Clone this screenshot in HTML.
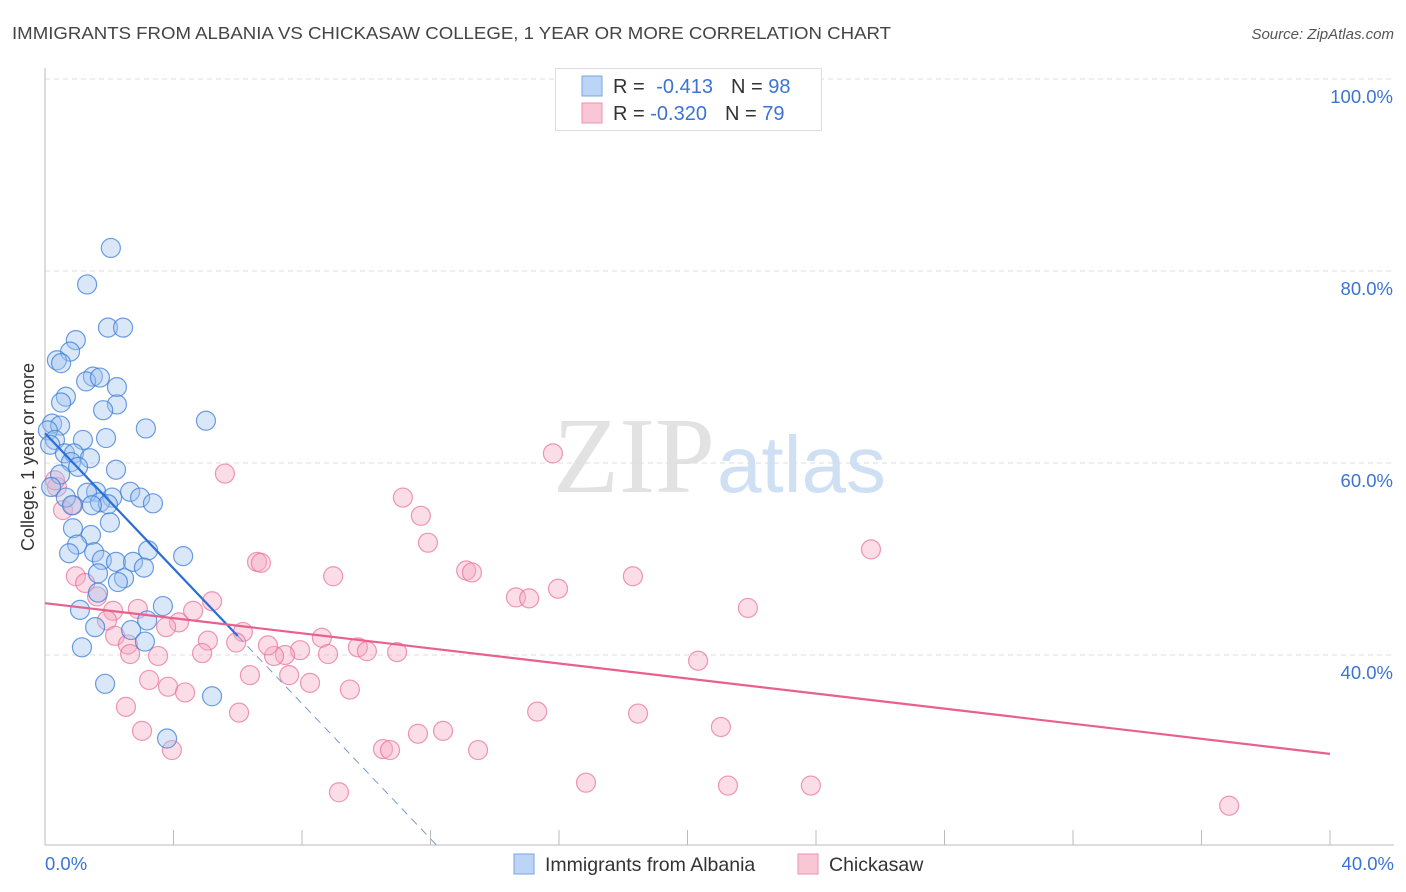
<!DOCTYPE html>
<html><head><meta charset="utf-8"><style>
body{margin:0;background:#fff;font-family:"Liberation Sans",sans-serif}
#wrap{position:relative;width:1406px;height:892px;overflow:hidden}
</style></head><body>
<div id="wrap">
<svg id="chart" width="1406" height="892" xmlns="http://www.w3.org/2000/svg">
<text x="12" y="39" font-size="17.5" fill="#444" textLength="879" lengthAdjust="spacingAndGlyphs">IMMIGRANTS FROM ALBANIA VS CHICKASAW COLLEGE, 1 YEAR OR MORE CORRELATION CHART</text>
<text x="1394" y="39" font-size="15" fill="#555" font-style="italic" text-anchor="end">Source: ZipAtlas.com</text>
<text x="715" y="492" font-size="108" fill="#e2e2e2" text-anchor="end" font-family="Liberation Serif,serif">ZIP</text>
<text x="717" y="492" font-size="80" fill="#cfe0f4">atlas</text>
<g id="grid"></g><g id="axes"></g><g id="pts"></g><g id="lines"></g>
<text transform="translate(34,457) rotate(-90)" font-size="18" fill="#333" text-anchor="middle">College, 1 year or more</text>
<g>
<rect x="555.5" y="68.5" width="266" height="62" fill="#fff" stroke="#ddd"/>
<rect x="582" y="76" width="20" height="20" fill="#bcd4f5" stroke="#7aa6e6"/>
<rect x="582" y="103" width="20" height="20" fill="#f9c6d6" stroke="#ee93b0"/>
<text x="613" y="93" font-size="20" fill="#333">R = <tspan fill="#3b74d4" dx="6">-0.413</tspan><tspan dx="18" fill="#333">N = </tspan><tspan fill="#3b74d4">98</tspan></text>
<text x="613" y="120" font-size="20" fill="#333">R = <tspan fill="#3b74d4">-0.320</tspan><tspan dx="18" fill="#333">N = </tspan><tspan fill="#3b74d4">79</tspan></text>
</g>
<g>
<rect x="514" y="854" width="20" height="20" fill="#bcd4f5" stroke="#7aa6e6"/>
<text x="545" y="871" font-size="19.5" fill="#333">Immigrants from Albania</text>
<rect x="798" y="854" width="20" height="20" fill="#f9c6d6" stroke="#ee93b0"/>
<text x="829" y="871" font-size="19.5" fill="#333">Chickasaw</text>
</g>
</svg></div>
<script>
const yTicks=[40,60,80,100];
const yTickLabels=["40.0%","60.0%","80.0%","100.0%"];
const xTickLabels=["0.0%","40.0%"];
const blueX=[2.05,1.31,1.96,2.43,0.96,0.78,0.37,0.50,1.49,1.28,1.71,2.24,0.65,0.50,2.24,1.81,5.01,3.14,0.22,0.47,0.09,1.90,0.31,1.18,0.16,0.62,0.90,1.40,0.81,1.03,2.21,0.47,0.19,1.59,2.65,0.65,2.96,1.31,2.09,1.71,3.36,1.96,0.84,1.46,2.02,0.87,1.43,1.00,3.21,0.75,1.53,4.30,1.77,2.21,2.74,3.08,1.65,2.46,2.27,1.65,3.67,1.09,3.18,1.56,2.68,3.11,1.15,1.87,5.20,3.80];
const blueY=[82.4,78.6,74.1,74.1,72.8,71.6,70.7,70.4,69.0,68.5,68.9,67.9,66.9,66.3,66.1,65.5,64.4,63.6,64.1,63.9,63.4,62.6,62.4,62.4,61.9,61.0,61.0,60.5,60.1,59.6,59.3,58.8,57.5,57.0,57.0,56.4,56.4,56.9,56.4,55.9,55.8,55.7,55.6,55.6,53.8,53.2,52.5,51.5,50.9,50.6,50.7,50.3,49.9,49.7,49.7,49.1,48.5,48.0,47.6,46.5,45.1,44.7,43.6,42.9,42.6,41.4,40.8,37.0,35.7,31.3];
const pinkX=[5.60,15.81,11.14,11.70,11.92,0.37,0.56,0.87,25.71,6.60,6.72,8.97,13.11,13.29,18.30,14.66,15.07,15.97,0.96,1.25,1.62,2.12,5.20,21.88,4.61,2.89,4.17,1.93,2.18,2.58,3.77,5.07,6.16,8.62,9.74,10.02,7.94,7.47,7.13,5.95,6.94,10.96,4.89,3.52,2.65,8.81,6.38,7.60,3.24,3.83,4.36,8.25,9.49,20.33,2.52,6.04,15.32,18.46,3.02,3.95,10.52,10.74,11.61,12.39,13.48,21.04,16.84,21.26,23.84,9.15,36.86,0.31];
const pinkY=[58.9,61.0,56.4,54.5,51.7,57.5,55.1,55.6,51.0,49.7,49.6,48.2,48.8,48.6,48.2,46.0,45.9,46.9,48.2,47.5,46.1,44.6,45.6,44.9,44.6,44.8,43.4,43.6,42.0,41.1,42.9,41.5,42.4,41.8,40.8,40.4,40.5,40.0,39.9,41.3,41.0,40.3,40.2,39.9,40.1,40.1,37.9,37.9,37.4,36.7,36.1,37.1,36.4,39.4,34.6,34.0,34.1,33.9,32.1,30.1,30.2,30.1,31.8,32.1,30.1,32.5,26.7,26.4,26.4,25.7,24.3,58.2];
const blueTrend=[63.1,-3.52];
const pinkTrend=[45.4,-0.3925];
const NS="http://www.w3.org/2000/svg";
const sx=v=>45+v*32.125, sy=v=>1039-v*9.6;
function mk(tag,attrs,parent){const e=document.createElementNS(NS,tag);for(const k in attrs)e.setAttribute(k,attrs[k]);document.getElementById(parent).appendChild(e);return e;}
yTicks.forEach((t,i)=>{
 const g=mk('line',{x1:45,x2:1394,y1:sy(t),y2:sy(t),stroke:'#ddd','stroke-dasharray':'5,4'},'grid');
 
 
 const l=mk('text',{x:1393,y:sy(t)+24,'font-size':18.5,fill:'#3b74d4','text-anchor':'end'},'axes');
 l.textContent=yTickLabels[i];
 
 
});
const ax=mk('line',{x1:45,x2:45,y1:68,y2:845,stroke:'#bbb'},'axes');


const bx=mk('line',{x1:45,x2:1394,y1:845,y2:845,stroke:'#bbb'},'axes');


for(let i=0;i<=10;i++){const t=mk('line',{x1:sx(i*4),x2:sx(i*4),y1:830,y2:845,stroke:'#bbb'},'axes');
 
 }
const xl0=mk('text',{x:45,y:870,'font-size':18.5,fill:'#3b74d4'},'axes');xl0.textContent=xTickLabels[0];


const xl1=mk('text',{x:1394,y:870,'font-size':18.5,fill:'#3b74d4','text-anchor':'end'},'axes');xl1.textContent=xTickLabels[1];


pinkX.forEach((x,i)=>{const c=mk('circle',{cx:sx(x),cy:sy(pinkY[i]),r:9.5,fill:'rgba(246,170,195,0.4)',stroke:'rgba(232,110,150,0.7)','stroke-width':1.2},'pts');
 
 });
blueX.forEach((x,i)=>{const c=mk('circle',{cx:sx(x),cy:sy(blueY[i]),r:9.5,fill:'rgba(160,195,240,0.4)',stroke:'rgba(60,125,215,0.75)','stroke-width':1.2},'pts');
 
 });
const bEnd=6.0, bDash=(blueTrend[0]-(1039-845)/9.6)/(-blueTrend[1]);
const bl=mk('line',{x1:sx(0),y1:sy(blueTrend[0]),x2:sx(bEnd),y2:sy(blueTrend[0]+blueTrend[1]*bEnd),stroke:'#2a6fd6','stroke-width':2.2},'lines');


const bd=mk('line',{x1:sx(bEnd),y1:sy(blueTrend[0]+blueTrend[1]*bEnd),x2:sx(bDash),y2:845,stroke:'#7a9ad0','stroke-width':1,'stroke-dasharray':'8,6'},'lines');


const pl=mk('line',{x1:sx(0),y1:sy(pinkTrend[0]),x2:sx(40),y2:sy(pinkTrend[0]+pinkTrend[1]*40),stroke:'#e8608f','stroke-width':2.2},'lines');


</script>
</body></html>
